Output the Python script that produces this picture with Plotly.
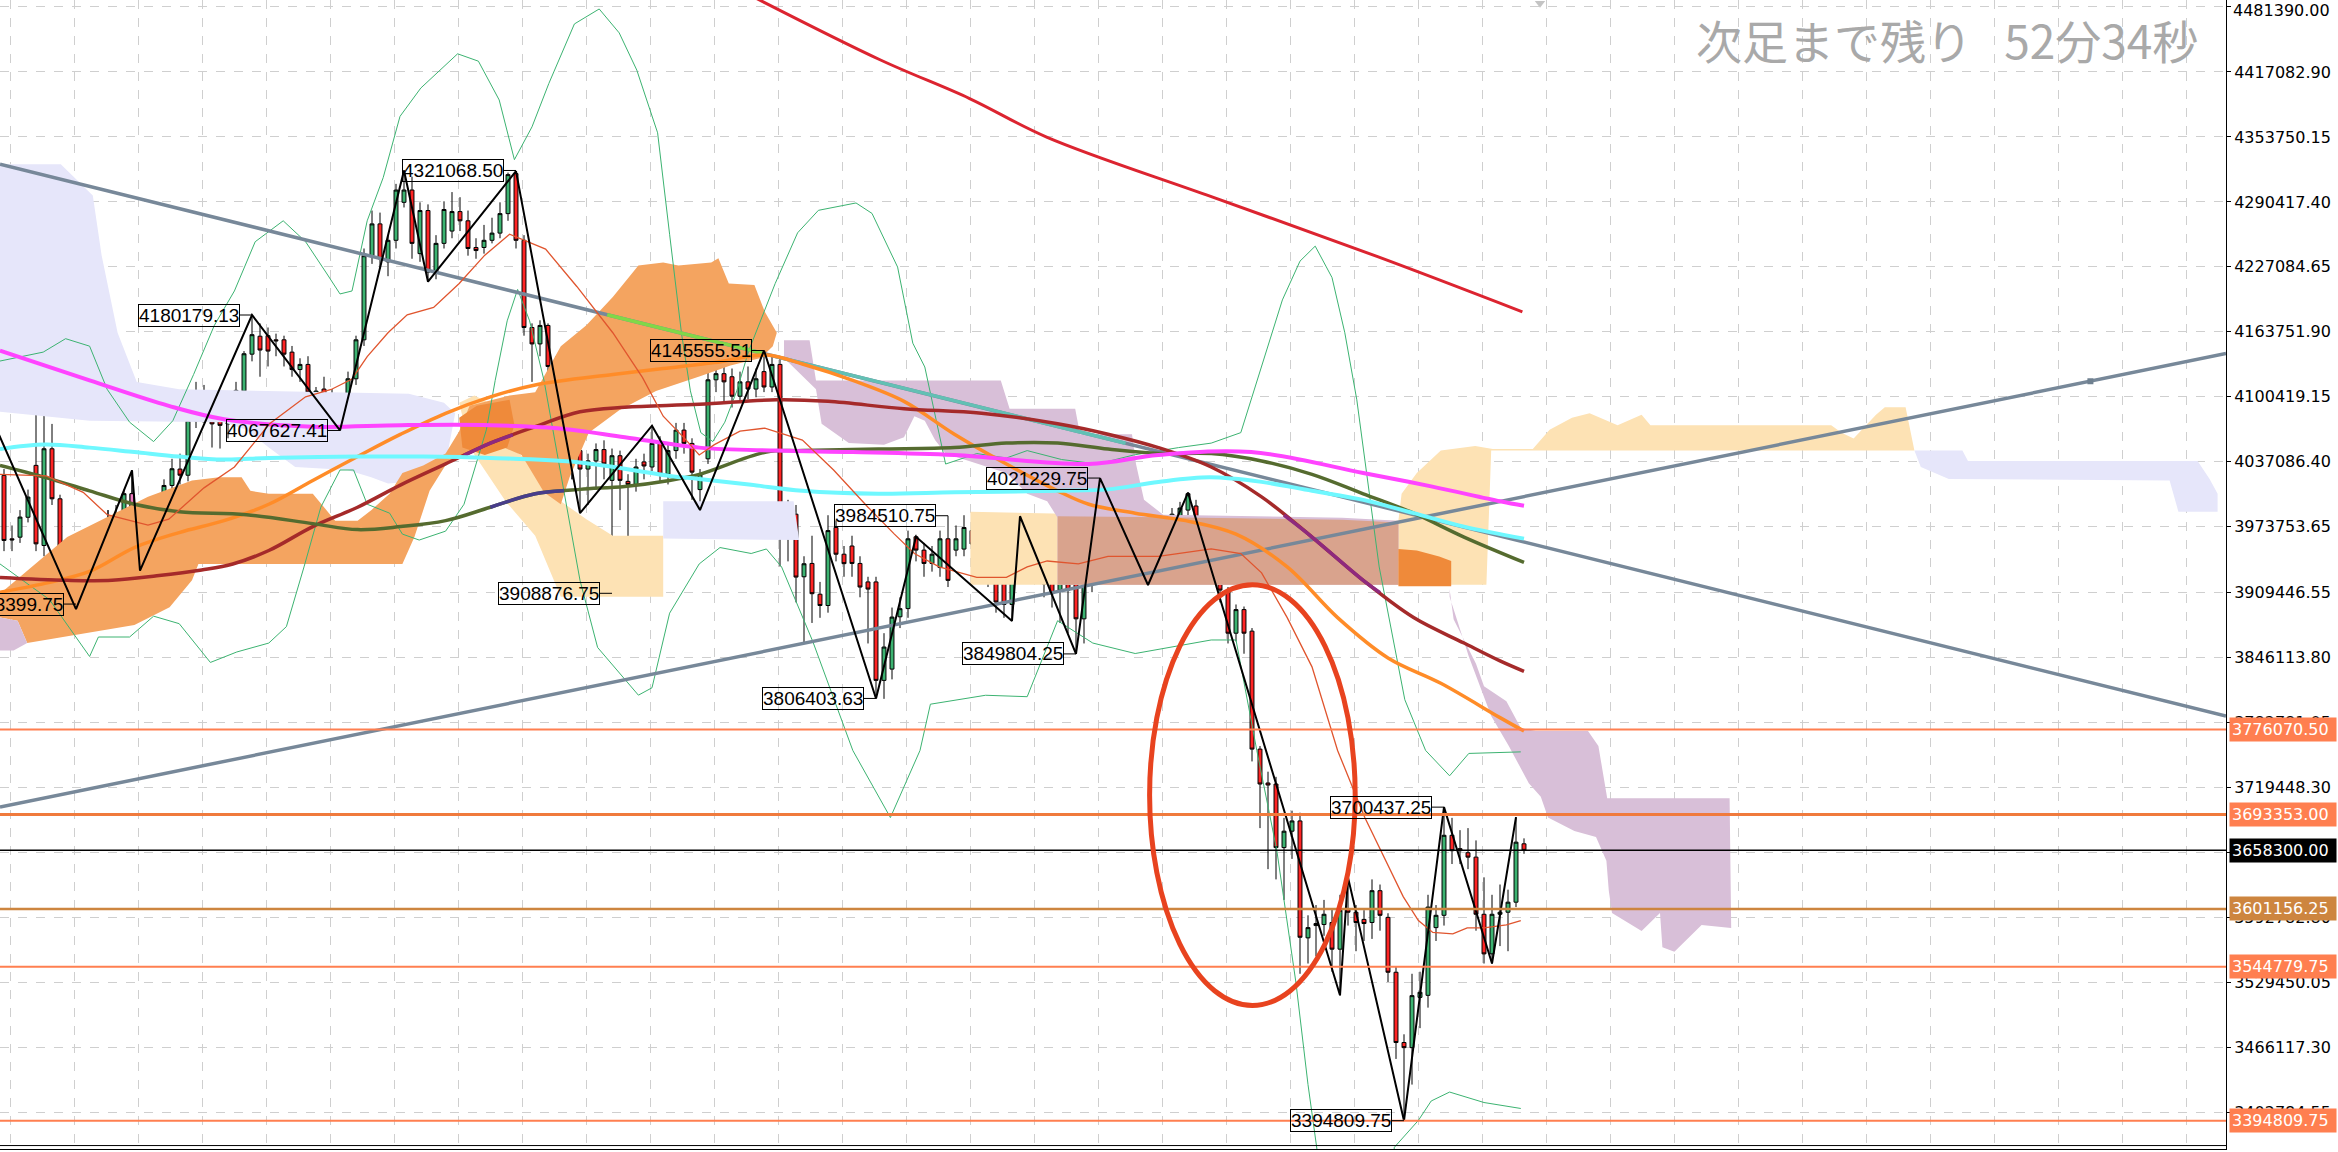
import plotly.graph_objects as go

# ---------------- candles (prices in thousands) ----------------
opens = [4023.8, 3962, 3963.6, 3983, 4033.6, 3955.5, 4049.8, 4001, 3953.9, 3921,
         3946, 3955, 3928, 3967, 3978, 3986, 4006, 3968, 3969, 3969,
         3991, 4014, 4030, 4024, 4077, 4097, 4085, 4077, 4074, 4084,
         4106, 4142, 4159.5, 4160, 4156, 4156, 4144, 4127, 4132, 4103,
         4108, 4101, 4071, 4094, 4118, 4156, 4238, 4269, 4232, 4253,
         4290, 4302, 4240, 4282, 4222, 4250, 4262, 4281, 4272, 4246,
         4246, 4253, 4260, 4279, 4318, 4253, 4168, 4152, 4170, 4130,
         4090, 4042, 4048, 4030, 4038, 4049, 4019, 4043, 4018, 4015,
         4037, 4032, 4055, 4025, 4048, 4068, 4055, 4010, 4040, 4117,
         4123, 4120, 4101, 4115, 4108, 4125, 4110, 4132, 3972, 3986,
         3925, 3938, 3908, 3897, 3973, 3947, 3955, 3938, 3920, 3920,
         3824, 3835, 3886, 3894, 3964, 3951, 3938, 3934, 3962, 3951,
         3952, 3970, 3957, 3937.8, 3921.5, 3925, 3898, 3951, 3967, 3963.8,
         3941, 3928, 3912, 3928, 3924.8, 3884, 3918, 3967, 4009, 4006,
         3986.5, 3947, 3960, 3946, 3944, 3947, 3960, 3984, 3990, 3994,
         3967, 3938, 3945, 3912, 3870, 3893, 3872, 3757, 3724, 3723,
         3661, 3677, 3687, 3573, 3585, 3586, 3588, 3562, 3601, 3598,
         3591, 3588, 3619, 3593, 3539.5, 3471, 3466, 3515, 3517, 3583,
         3595, 3673, 3660, 3656, 3651.7, 3596, 3557.4, 3596, 3598, 3607.8,
         3664.7]
highs = [4030, 3975, 3990, 4010, 4087.2, 4087, 4074, 4005, 3960, 3945,
         3962, 3965, 3972, 3990, 3995, 4010, 4028.7, 3975, 3980, 3995,
         4020, 4040, 4045, 4082, 4115, 4112, 4095, 4090, 4100, 4115,
         4145, 4180.2, 4172, 4168, 4162, 4160, 4150, 4138, 4140, 4110,
         4120, 4108, 4100, 4125, 4160, 4245, 4282, 4280, 4258, 4308,
         4321.07, 4315, 4290, 4288, 4258, 4291, 4300, 4295, 4282, 4255,
         4268, 4275, 4290, 4319, 4320.4, 4258, 4172, 4175, 4172, 4140,
         4095, 4052, 4052, 4045, 4055, 4058, 4050, 4048, 4025, 4040,
         4045, 4072.3, 4062, 4055, 4075, 4075, 4060, 4030, 4125, 4135,
         4130, 4128, 4125, 4130, 4128, 4145.6, 4140, 4138, 4000, 3995,
         3945, 3965, 3920, 3985, 3980, 3955, 3965, 3945, 3925, 3925,
         3870, 3895, 3905, 3970, 3966, 3958, 3955, 3970, 3984.5, 3975,
         3985, 3980, 3962, 3945, 3925, 3930, 3955, 3984, 3975, 3970,
         3945, 3935, 3935, 3932, 3930, 3925, 3975, 4021.2, 4015, 4012,
         3990, 3970, 3968, 3955, 3968, 3972, 3992, 3998, 4007, 4000,
         3972, 3955, 3950, 3915, 3898, 3896, 3875, 3760, 3735, 3730,
         3690, 3697, 3695, 3595, 3605, 3610, 3602, 3615, 3632, 3605,
         3600, 3630, 3625, 3597, 3545, 3479, 3538, 3540, 3615, 3605,
         3700.44, 3690, 3678, 3680, 3668, 3632, 3615, 3625, 3620, 3690.7,
         3670]
lows = [3950, 3950, 3958, 3978, 3950, 3945, 3995, 3945, 3912, 3893.4,
        3935, 3908, 3905, 3960, 3965, 3980, 3945, 3931, 3958, 3960,
        3985, 4008, 4015, 4018, 4070, 4075, 4051, 4050, 4060, 4075,
        4100, 4135, 4120, 4130, 4140, 4130, 4120, 4115, 4085, 4080,
        4080, 4070, 4067.6, 4090, 4112, 4150, 4230, 4225, 4218, 4245,
        4285, 4235, 4232, 4212.6, 4215, 4245, 4255, 4262, 4238, 4235,
        4240, 4250, 4255, 4272, 4245, 4160, 4115, 4140, 4120, 4080,
        4035, 4020, 3987, 3995, 4010, 4020, 3908.9, 3990, 3950, 4008,
        4020, 4028, 4018, 4015, 4040, 4045, 4000, 3990, 4035, 4105,
        4095, 4090, 4095, 4098, 4100, 4105, 4105, 3935, 3940, 3900,
        3860, 3880, 3885, 3890, 3940, 3925, 3925, 3905, 3860, 3806.4,
        3806, 3825, 3875, 3885, 3940, 3925, 3930, 3925, 3915, 3945,
        3945, 3950, 3928, 3915, 3890, 3885, 3882, 3945, 3935, 3930,
        3905, 3895, 3880, 3870, 3849.8, 3860, 3910, 3960, 3990, 3975,
        3945, 3930, 3925, 3917, 3935, 3938, 3950, 3975, 3985, 3960,
        3930, 3925, 3900, 3860, 3862, 3850, 3745, 3680, 3640, 3630,
        3610, 3650, 3538, 3548, 3555, 3575, 3540, 3517, 3585, 3560,
        3570, 3572, 3580, 3530, 3455, 3394.81, 3430, 3485, 3505, 3570,
        3585, 3645, 3645, 3640, 3580, 3548, 3548, 3565, 3560, 3603,
        3655]
closes = [3960.4, 3961, 3983.2, 4002.7, 3957.1, 4049.8, 4001, 3953.9, 3924.6, 3939,
          3955.5, 3928, 3967, 3978, 3979, 4006, 3954, 3969.7, 3970, 3991,
          4014, 4030.3, 4024, 4077.5, 4097, 4085.6, 4074, 4072.6, 4084, 4106.7,
          4142.4, 4161, 4146, 4145, 4155, 4142, 4127, 4132, 4105, 4106,
          4101, 4081, 4094, 4118, 4156, 4238, 4269, 4235, 4253, 4302,
          4302, 4250, 4282, 4222, 4250, 4283, 4281, 4272, 4245, 4243,
          4253, 4260, 4279, 4317, 4253, 4168, 4152, 4170, 4130, 4090,
          4042, 4048, 4030, 4038, 4049, 4035, 4043, 4019, 4015, 4032,
          4033, 4055, 4025, 4048, 4068, 4055, 4027, 4025, 4117, 4123,
          4115, 4101, 4115, 4108, 4118, 4110, 4132, 3972, 3986.5, 3924.7,
          3937.7, 3908.5, 3897, 3970, 3947, 3937.8, 3938, 3915, 3913, 3824,
          3856.5, 3885.7, 3893.9, 3962, 3951, 3938, 3947, 3962, 3921.5, 3962,
          3973, 3957, 3937.8, 3921.5, 3900.4, 3898, 3951, 3957.3, 3941, 3941,
          3918, 3908.5, 3928, 3912, 3884, 3918, 3967, 4012.5, 3999.5, 3986.5,
          3954, 3960, 3944, 3943, 3962, 3964, 3986, 3992, 4006, 3967,
          3938, 3945, 3912, 3870, 3893, 3870, 3757, 3723, 3722, 3661,
          3677, 3687, 3573.6, 3583, 3587, 3596, 3562, 3600, 3598, 3588,
          3587, 3619, 3595, 3539.5, 3471, 3466, 3516.7, 3520, 3603, 3595,
          3673, 3658, 3658, 3651.7, 3596, 3557.4, 3596, 3598, 3607.8, 3666.3,
          3658.3]
bar_index = list(range(len(opens)))
cyan_bars = [9, 10, 12, 13, 17, 19, 71]
pink_bars = [11, 16, 70]

# ---------------- zigzag pivots ----------------
zz_idx = [-1, 9, 16, 17, 31, 42, 50, 53, 64, 72, 81, 87, 95, 109, 114, 126, 127,
          134, 137, 143, 148, 167, 168, 175, 180, 186, 189]
zz_px = [4070, 3893.4, 4028.7, 3931, 4180.18, 4067.63, 4321.07, 4212.6, 4320.4, 3987,
         4072.3, 3990, 4145.56, 3806.4, 3964, 3882, 3984, 3849.8, 4021.23, 3917,
         4007, 3517, 3632, 3394.81, 3700.44, 3548, 3690.7]

# ---------------- moving averages (bar index, price k) ----------------
mag_x = [-0.5, 10.7, 20.6, 27.5, 38.6, 49.6, 60.8, 69.2, 77.6, 86.9, 96.6, 106.1, 118.8,
         135.6, 144.3, 155.9, 169.9, 178.4, 187.0, 190]
mag_y = [4145.5, 4116.4, 4091.6, 4078.6, 4071.3, 4072.8, 4072.8, 4069.8, 4061.1, 4050.9,
         4048.0, 4046.6, 4043.7, 4035.0, 4043.7, 4046.6, 4026.2, 4013.1, 3998.6, 3994.2]
cyan_x = [-0.5, 5.1, 10.7, 16.3, 21.9, 27.5, 33.1, 44.2, 52.4, 60.8, 72.0, 83.2, 86.9, 93.4,
          99.8, 109.3, 118.8, 131.7, 138.0, 144.3, 150.7, 157.2, 163.5, 169.9, 176.2, 182.5, 190]
cyan_y = [4049.5, 4053.9, 4050.9, 4046.6, 4042.2, 4039.3, 4040.8, 4042.2, 4042.2, 4040.8,
          4036.4, 4023.3, 4020.4, 4014.6, 4008.8, 4005.9, 4007.3, 4008.8, 4010.2, 4017.5,
          4021.9, 4017.5, 4008.8, 4000.0, 3987.0, 3973.9, 3962.2]
olive_x = [-0.5, 5.1, 10.7, 16.3, 21.9, 30.3, 38.6, 44.2, 49.6, 55.2, 60.8, 66.4, 72.0, 77.6,
           83.2, 86.9, 95.3, 99.8, 109.3, 118.8, 125.3, 131.7, 138.0, 144.3, 150.9, 157.2,
           163.5, 169.9, 176.2, 182.5, 190]
olive_y = [4033.5, 4021.9, 4008.8, 3995.7, 3988.4, 3985.5, 3976.8, 3971.0, 3973.9, 3979.7,
           3992.8, 4005.9, 4010.2, 4013.1, 4018.9, 4024.8, 4046.6, 4048.0, 4049.5, 4050.9,
           4055.3, 4055.3, 4049.5, 4045.1, 4045.1, 4037.9, 4024.8, 4005.9, 3987.0, 3963.7, 3939.0]
olive_seg_x = [60.8, 66.4, 70.0]
olive_seg_y = [3992.8, 4005.9, 4008.9]
brown_x = [-0.5, 7.9, 13.5, 19.1, 24.7, 28.6, 33.1, 38.6, 44.2, 49.6, 55.2, 60.8, 66.4, 72.0,
           77.6, 86.9, 96.6, 103.0, 112.5, 122.2, 131.7, 138.0, 144.3, 150.9, 157.2, 163.5,
           169.9, 176.2, 182.5, 187.0, 190]
brown_y = [3924.4, 3921.5, 3921.5, 3925.9, 3931.7, 3937.5, 3950.6, 3973.9, 3992.8, 4014.6,
           4035.0, 4055.3, 4071.3, 4085.8, 4090.2, 4093.1, 4097.5, 4096.0, 4088.8, 4084.4,
           4074.2, 4064.0, 4050.9, 4032.0, 4002.9, 3963.7, 3921.5, 3885.2, 3860.4, 3843.0, 3832.8]
brown_seg1_x = [57.5, 60.8, 63.6]
brown_seg1_y = [4043.3, 4055.3, 4063.3]
brown_seg2_x = [160.0, 163.5, 169.9, 172.0]
brown_seg2_y = [3985.0, 3963.7, 3921.5, 3909.5]
orange_x = [-0.5, 5.1, 10.7, 16.3, 21.9, 27.5, 33.1, 38.6, 44.2, 49.6, 55.2, 60.8, 66.4, 76.1,
            82.4, 88.8, 95.3, 99.8, 106.1, 112.5, 118.8, 125.3, 131.7, 135.6, 141.4, 147.7,
            154.0, 160.4, 166.7, 173.0, 179.6, 187.0, 190]
orange_y = [3909.9, 3918.6, 3930.2, 3953.5, 3968.1, 3979.7, 3995.7, 4018.9, 4042.2, 4064.0,
            4084.4, 4100.4, 4112.0, 4122.2, 4128.0, 4133.8, 4141.1, 4132.4, 4116.4, 4096.0,
            4064.0, 4034.9, 4008.8, 3995.7, 3987.0, 3979.7, 3966.6, 3934.6, 3885.2, 3845.9,
            3821.2, 3787.7, 3774.6]
red_x = [92.0, 109.5, 120.7, 130.4, 151.0, 171.7, 189.8]
red_y = [4497.0, 4429.0, 4391.2, 4353.4, 4295.3, 4237.1, 4183.3]

# Bollinger band
mid_x = [-0.5, 5.3, 9.9, 12.9, 18.0, 20.6, 25.0, 28.8, 33.2, 37.7, 40.9, 43.5, 45.4, 48.0,
         50.4, 53.7, 56.9, 60.1, 63.2, 67.7, 71.6, 76.1, 79.8, 82.4, 85.1, 86.9, 88.8, 92.0,
         95.1, 99.8, 103.7, 108.0, 111.3, 113.8, 116.9, 121.6, 125.3, 127.9, 130.4, 134.3,
         138.0, 144.3, 150.9, 154.6, 157.2, 160.4, 163.5, 166.7, 170.1, 172.9, 174.9, 176.8,
         178.6, 181.1, 182.9, 185.0, 187.8, 189.6]
mid_y = [4024.8, 4023.3, 4007.3, 3985.5, 3975.3, 3981.1, 4011.7, 4032.0, 4074.2, 4100.4,
         4107.6, 4117.8, 4139.6, 4162.9, 4180.4, 4187.6, 4210.9, 4238.5, 4258.9, 4244.4,
         4208.0, 4162.9, 4119.3, 4081.5, 4059.7, 4043.7, 4053.8, 4066.9, 4069.9, 4058.2,
         4029.1, 3992.8, 3966.6, 3947.7, 3934.6, 3924.4, 3924.4, 3934.6, 3940.4, 3937.5,
         3944.8, 3944.8, 3952.1, 3947.7, 3928.8, 3885.2, 3837.2, 3755.7, 3690.3, 3645.2,
         3613.2, 3589.9, 3578.3, 3576.9, 3582.7, 3582.7, 3585.6, 3589.9]
ub_x = [-0.5, 4.9, 7.7, 10.7, 12.9, 15.7, 18.7, 21.1, 23.7, 26.3, 28.8, 31.4, 34.9, 37.7,
        40.3, 42.0, 43.5, 45.4, 47.4, 49.5, 52.1, 56.7, 59.3, 61.9, 63.8, 66.0, 68.1, 71.3,
        74.4, 76.9, 79.1, 81.7, 83.2, 84.7, 85.8, 87.1, 88.6, 90.1, 91.6, 93.1, 96.4, 99.2,
        101.8, 106.5, 108.5, 111.7, 113.6, 115.1, 117.7, 121.6, 125.3, 127.9, 132.2, 136.7,
        141.2, 146.8, 150.9, 154.6, 159.8, 162.0, 163.9, 166.0, 167.6, 169.1, 171.9, 175.1,
        177.7, 180.7, 183.1, 187.8, 189.6]
ub_y = [4135.3, 4144.0, 4157.1, 4149.8, 4107.7, 4075.7, 4056.8, 4077.1, 4122.2, 4170.2,
        4203.6, 4251.6, 4272.0, 4251.6, 4221.1, 4200.7, 4203.6, 4272.0, 4314.1, 4373.8,
        4401.4, 4434.8, 4427.6, 4389.8, 4331.6, 4363.6, 4405.8, 4463.9, 4478.5, 4455.2,
        4418.9, 4357.8, 4258.9, 4161.5, 4106.2, 4065.5, 4056.8, 4075.7, 4106.2, 4145.5,
        4210.9, 4260.3, 4282.2, 4289.4, 4279.2, 4226.9, 4152.7, 4129.5, 4034.9, 4045.1,
        4040.8, 4048.0, 4039.3, 4034.9, 4043.7, 4050.9, 4055.3, 4065.5, 4194.9, 4232.7,
        4247.3, 4216.7, 4162.9, 4097.5, 3934.6, 3805.2, 3755.7, 3731.0, 3752.8, 3754.3, 3754.3]
lb_x = [-0.5, 5.7, 10.7, 11.8, 15.7, 18.7, 21.9, 25.8, 29.1, 33.1, 35.3, 37.5, 39.6, 42.0,
        43.7, 45.4, 48.2, 49.8, 51.9, 55.2, 57.5, 60.3, 61.4, 62.9, 64.2, 65.7, 67.5, 72.0,
        74.2, 79.3, 81.0, 83.2, 86.9, 89.5, 93.4, 95.3, 97.2, 101.1, 106.1, 110.8, 114.5,
        115.8, 122.7, 127.9, 131.7, 136.1, 141.4, 150.9, 154.0, 156.6, 159.1, 161.5, 163.0,
        164.1, 165.4, 172.5, 173.8, 176.8, 178.4, 180.7, 185.0, 189.6]
lb_y = [3937.5, 3902.6, 3847.3, 3866.3, 3866.3, 3886.6, 3879.3, 3841.5, 3851.7, 3860.4,
        3876.4, 3934.6, 3992.8, 4029.1, 4029.1, 3995.7, 3987.0, 3966.6, 3960.8, 3969.5,
        3995.7, 4068.4, 4116.4, 4174.5, 4205.1, 4174.5, 4116.4, 3921.5, 3856.1, 3809.6,
        3816.8, 3889.5, 3937.5, 3953.5, 3947.7, 3952.1, 3934.6, 3861.9, 3755.7, 3690.3,
        3755.7, 3800.8, 3809.5, 3808.1, 3882.2, 3860.4, 3850.2, 3863.4, 3863.4, 3755.7,
        3658.3, 3528.9, 3430.0, 3368.9, 3294.8, 3294.8, 3368.9, 3395.1, 3414.0, 3422.7,
        3412.5, 3406.7]

# ---------------- clouds (polygons: bar index, price k) ----------------
lav1_x = [-0.5, 7.1, 11.1, 12.2, 14.2, 16.6, 21.9, 32.7, 50.6, 55.0, 56.4, 55.2, 53.2, 48.0,
          45.9, 42.9, 36.4, 33.1, 30.3, 27.5, 10.7, -0.5]
lav1_y = [4327.2, 4327.2, 4296.7, 4238.5, 4162.9, 4114.9, 4107.7, 4106.2, 4103.3, 4094.6,
          4084.4, 4035.0, 4018.9, 4016.0, 4021.9, 4029.1, 4032.0, 4050.9, 4068.4, 4075.7,
          4077.1, 4085.8]
beige1_x = [56.9, 58.8, 60.6, 63.3, 66.4, 69.6, 72.8, 76.1, 82.4, 82.4, 69.6, 66.4, 62.7, 58.2]
beige1_y = [4094.6, 4101.8, 4094.6, 4050.9, 4033.5, 3998.6, 3981.1, 3965.1, 3965.1, 3905.5,
            3905.5, 3965.1, 3998.6, 4050.9]
lav2_x = [82.4, 98.7, 99.4, 82.4]
lav2_y = [3998.6, 3998.6, 3960.8, 3962.2]
beige2_x = [120.8, 174.3, 174.7, 176.6, 179.6, 183.9, 186.1, 191.1, 193.2, 196.0, 198.2,
            199.9, 201.7, 204.7, 205.8, 228.4, 229.7, 231.2, 234.0, 235.1, 237.7, 238.8,
            185.9, 185.3, 120.8]
beige2_y = [3988.4, 3979.7, 4005.9, 4026.2, 4048.0, 4052.4, 4049.5, 4049.5, 4068.4, 4080.0,
            4084.4, 4078.6, 4072.8, 4083.0, 4072.8, 4072.8, 4065.5, 4059.7, 4083.0, 4090.2,
            4090.2, 4048.0, 4048.0, 3917.2, 3917.2]
lav3_x = [238.8, 244.8, 245.5, 274.2, 275.7, 276.7, 276.7, 271.8, 270.7, 243.1, 239.6]
lav3_y = [4048.0, 4048.0, 4037.9, 4037.9, 4020.4, 4005.9, 3988.4, 3988.4, 4018.9, 4020.4, 4032.0]
a1_x = [-0.5, 7.9, 18.0, 23.5, 26.9, 29.7, 30.8, 33.1, 38.6, 41.4, 44.2, 45.9, 48.2, 49.8,
        52.4, 55.2, 56.9, 58.2, 63.2, 66.4, 69.6, 72.8, 76.1, 79.3, 82.4, 84.3, 88.4, 89.3,
        90.6, 93.8, 95.1, 96.6, 96.1, 94.6, 90.8, 87.1, 81.5, 76.9, 73.1, 70.7, 69.6, 67.5,
        64.7, 62.5, 59.1, 55.4, 53.2, 51.3, 49.8, 24.3, 23.5, 20.7, 16.3, 7.3, 2.9, 1.7, -0.5]
a1_y = [3908.4, 3963.7, 4003.0, 4018.9, 4021.9, 4021.9, 4008.8, 4005.9, 4005.9, 3979.7,
        3979.7, 3989.9, 4005.9, 4026.2, 4033.5, 4045.1, 4066.9, 4091.7, 4101.8, 4104.8,
        4149.8, 4170.2, 4197.8, 4228.4, 4231.3, 4228.4, 4231.3, 4235.6, 4210.9, 4209.4,
        4183.3, 4162.9, 4149.8, 4138.2, 4130.9, 4120.7, 4106.2, 4087.3, 4065.5, 4021.9,
        3995.7, 4007.3, 4043.7, 4050.9, 4050.9, 4036.4, 4008.8, 3963.7, 3937.5, 3937.5,
        3921.5, 3895.3, 3877.9, 3866.3, 3860.4, 3882.2, 3885.2]
thsm_x = [-0.5, 1.7, 2.9, 1.2, -0.5]
thsm_y = [3885.2, 3882.2, 3860.4, 3853.2, 3853.2]
d1_x = [56.9, 59.1, 63.2, 63.8, 62.9, 60.1, 57.3]
d1_y = [4080.0, 4091.7, 4097.5, 4072.8, 4050.9, 4043.7, 4050.9]
tha_x = [97.5, 100.7, 101.5, 124.6, 125.7, 133.9, 134.5, 141.0, 141.5, 142.5, 144.9, 167.3,
         174.3, 174.3, 131.7, 131.7, 130.4, 127.9, 125.3, 117.7, 116.4, 115.1, 113.8, 112.5,
         110.0, 105.6, 102.2, 101.5, 97.5]
tha_y = [4155.6, 4155.6, 4116.4, 4116.4, 4088.8, 4088.8, 4064.0, 4064.0, 4034.9, 4000.0,
         3985.5, 3982.6, 3979.7, 3917.2, 3917.2, 3982.6, 3998.6, 4005.9, 4026.2, 4045.1,
         4058.2, 4077.1, 4081.5, 4061.1, 4053.8, 4055.3, 4074.2, 4107.7, 4138.2]
brov_x = [131.7, 144.9, 167.3, 174.3, 174.3, 131.7]
brov_y = [3984.0, 3983.0, 3980.5, 3978.0, 3917.2, 3917.2]
d2_x = [174.3, 176.6, 179.4, 180.9, 180.9, 174.3]
d2_y = [3952.0, 3950.6, 3944.8, 3940.4, 3915.7, 3915.7]
thf_x = [180.7, 181.2, 184.0, 185.0, 187.8, 189.6, 191.5, 198.0, 199.3, 200.4, 215.7, 215.9,
         212.2, 208.8, 207.3, 207.0, 204.7, 201.0, 200.6, 200.3, 199.0, 196.3, 193.0, 192.1,
         190.6, 188.1, 185.9, 183.1, 180.7]
thf_y = [3912.8, 3883.7, 3840.1, 3818.3, 3803.7, 3777.5, 3774.6, 3774.6, 3760.1, 3709.2,
         3709.2, 3582.7, 3585.6, 3559.4, 3563.8, 3597.2, 3579.8, 3597.2, 3619.0, 3648.1,
         3671.4, 3677.2, 3690.3, 3710.6, 3723.8, 3760.1, 3789.2, 3847.4, 3905.5]

# ---------------- trend lines ----------------
tl1_x = [-0.5, 277.75]
tl1_y = [4327.2, 3789.2]
tl1_lime_x = [75.4, 94.9]
tl1_lime_y = [4180.45, 4142.74]
tl1_teal_x = [96.4, 140.2]
tl1_teal_y = [4139.85, 4055.16]
tl2_x = [-0.5, 277.75]
tl2_y = [3700.5, 4142.6]
tl2_mark_x = [260.8]
tl2_mark_y = [4115.6]
top_marker_x = [192]
top_marker_y = [4484.0]

# ---------------- levels / ticks / labels ----------------
level_values = [3776070.50, 3693353.00, 3658300.00, 3601156.25, 3544779.75, 3394809.75]
level_colors = ["#ff7f50", "#f07a3c", "#000000", "#cd853f", "#ff7f50", "#ff7f50"]
level_widths = [2, 3, 1.5, 2.5, 2, 2]
tick_values = [4481390.00, 4417082.90, 4353750.15, 4290417.40, 4227084.65, 4163751.90,
               4100419.15, 4037086.40, 3973753.65, 3909446.55, 3846113.80, 3782781.05,
               3719448.30, 3656115.55, 3592782.80, 3529450.05, 3466117.30, 3402784.55]
label_texts = ["3893399.75", "4180179.13", "4067627.41", "4321068.50", "3908876.75",
               "4145555.51", "3984510.75", "3806403.63", "4021229.75", "3849804.25",
               "3700437.25", "3394809.75"]
label_bars = [9, 31, 42, 64, 76, 95, 118, 109, 137, 134, 180, 175]
label_prices = [3898.4, 4180.18, 4067.63, 4321.07, 3908.88, 4145.56, 3984.51, 3806.40,
                4021.23, 3849.80, 3700.44, 3394.81]
timer_text = "次足まで残り\u2002\u200952分34秒"
ellipse_box = dict(x0=143.2, x1=168.9, y0=3507.1, y1=3917.2)

K = 1000.0
Y_TOP, Y_BOT = 4487.24, 3367.2

fig = go.Figure()

def poly(x, y, color):
    fig.add_trace(go.Scatter(x=x, y=y, fill="toself", fillcolor=color, mode="lines",
                             line=dict(width=0, color=color), hoverinfo="skip"))

poly(lav1_x, lav1_y, "#e6e6fa")
poly(beige1_x, beige1_y, "#fde2b4")
poly(lav2_x, lav2_y, "#e6e6fa")
poly(beige2_x, beige2_y, "#fde2b4")
poly(lav3_x, lav3_y, "#e6e6fa")
poly(a1_x, a1_y, "#f4a460")
poly(thsm_x, thsm_y, "#d8bfd8")
poly(d1_x, d1_y, "#ef8a3a")
poly(tha_x, tha_y, "#d8bfd8")
poly(brov_x, brov_y, "#d9a38d")
poly(d2_x, d2_y, "#ef8a3a")
poly(thf_x, thf_y, "#d8bfd8")

def line(x, y, color, width, shape="linear"):
    fig.add_trace(go.Scatter(x=x, y=y, mode="lines", hoverinfo="skip",
                             line=dict(color=color, width=width, shape=shape)))

# Bollinger outer bands
line(ub_x, ub_y, "#3cb371", 1)
line(lb_x, lb_y, "#3cb371", 1)

# trend lines
line(tl1_x, tl1_y, "#778899", 3.5)
line(tl1_lime_x, tl1_lime_y, "#80d848", 3.5)
line(tl1_teal_x, tl1_teal_y, "#62c0b4", 3.5)
line(tl2_x, tl2_y, "#778899", 3.5)
fig.add_trace(go.Scatter(x=tl2_mark_x, y=tl2_mark_y, mode="markers", hoverinfo="skip",
                         marker=dict(symbol="square", size=6, color="#6f8090")))
fig.add_trace(go.Scatter(x=top_marker_x, y=top_marker_y, mode="markers", hoverinfo="skip",
                         marker=dict(symbol="triangle-down", size=9, color="#c4c4c4")))

# candles
fig.add_trace(go.Candlestick(
    x=bar_index, open=opens, high=highs, low=lows, close=closes,
    increasing=dict(fillcolor="#3cb371", line=dict(color="#000000", width=1)),
    decreasing=dict(fillcolor="#ff2424", line=dict(color="#000000", width=1)),
    whiskerwidth=0, hoverinfo="skip"))
sp = sorted(cyan_bars + pink_bars)
fig.add_trace(go.Candlestick(
    x=sp, open=[opens[i] for i in sp], high=[highs[i] for i in sp],
    low=[lows[i] for i in sp], close=[closes[i] for i in sp],
    increasing=dict(fillcolor="#4cc8f4", line=dict(color="#000000", width=1)),
    decreasing=dict(fillcolor="#f27cc4", line=dict(color="#000000", width=1)),
    whiskerwidth=0, hoverinfo="skip"))

# moving averages
line(orange_x, orange_y, "#ff8c28", 3.5, "spline")
line(brown_x, brown_y, "#a52a2a", 3.5, "spline")
line(brown_seg1_x, brown_seg1_y, "#8e2a7e", 3.5, "spline")
line(brown_seg2_x, brown_seg2_y, "#8e2a7e", 3.5, "spline")
line(olive_x, olive_y, "#556b2f", 3.5, "spline")
line(olive_seg_x, olive_seg_y, "#483d8b", 3.5, "spline")
line(cyan_x, cyan_y, "#6ff8ff", 4, "spline")
line(mag_x, mag_y, "#ff44ff", 4, "spline")
line(red_x, red_y, "#dc2430", 3, "spline")
line(mid_x, mid_y, "#e0552e", 1.3)

# zigzag
line(zz_idx, zz_px, "#000000", 2)

shapes = []
for v, c, w in zip(level_values, level_colors, level_widths):
    shapes.append(dict(type="line", xref="paper", x0=0, x1=1, yref="y", y0=v / K, y1=v / K,
                       line=dict(color=c, width=w), layer="above"))
shapes.append(dict(type="circle", xref="x", yref="y", line=dict(color="#e8431f", width=5),
                   layer="above", **ellipse_box))
for b, p in zip(label_bars, label_prices):
    shapes.append(dict(type="line", xref="x", yref="y", x0=b - 1.5, x1=b, y0=p, y1=p,
                       line=dict(color="#000000", width=1), layer="above"))
shapes.append(dict(type="line", xref="paper", yref="paper", x0=0, x1=1, y0=0.003, y1=0.003,
                   line=dict(color="#000000", width=1)))

annotations = []
for t, b, p in zip(label_texts, label_bars, label_prices):
    annotations.append(dict(x=b, y=p, xref="x", yref="y", text=t, showarrow=False,
                            xanchor="right", yanchor="middle", xshift=-12,
                            font=dict(family="Liberation Sans", size=19, color="#000000"),
                            bordercolor="#000000", borderwidth=1, borderpad=0, height=21,
                            bgcolor="rgba(0,0,0,0)"))
label_bg = ["#ff7f50", "#ff7f50", "#000000", "#cd853f", "#ff7f50", "#ff7f50"]
for v, bg in zip(level_values, label_bg):
    annotations.append(dict(x=1, xref="paper", y=v / K, yref="y", text=f"{v:.2f}",
                            showarrow=False, xanchor="left", yanchor="middle", xshift=3,
                            font=dict(family="DejaVu Sans", size=16, color="#ffffff"),
                            bgcolor=bg, borderpad=2, width=102, height=19, align="left"))
# top tick label drawn as text so it stays inside the page
annotations.append(dict(x=1, xref="paper", y=1, yref="paper", text=f"{tick_values[0]:.2f}",
                        showarrow=False, xanchor="left", yanchor="top", xshift=5, yshift=1,
                        font=dict(family="DejaVu Sans", size=16, color="#000000")))
annotations.append(dict(x=2200 / 2226, y=1 - 39 / 1149, xref="paper", yref="paper",
                        text=timer_text, showarrow=False, xanchor="right", yanchor="middle",
                        font=dict(family="Noto Sans CJK JP", size=46, color="#a9a9a9")))

tick_text = [f"{v:.2f}" for v in tick_values]
tick_text[0] = ""

fig.update_layout(
    template="none",
    width=2338, height=1152, margin=dict(l=0, r=112, t=0, b=3),
    plot_bgcolor="#ffffff", paper_bgcolor="#ffffff", showlegend=False,
    shapes=shapes, annotations=annotations,
    xaxis=dict(range=[-0.5, 277.75], showticklabels=False, showgrid=True,
               gridcolor="#cfcfcf", griddash="dash", gridwidth=1, tick0=0.75, dtick=8,
               zeroline=False, showline=True, linecolor="#000000", linewidth=1,
               ticks="", rangeslider=dict(visible=False), fixedrange=True),
    yaxis=dict(side="right", range=[Y_BOT, Y_TOP], tickvals=[v / K for v in tick_values],
               ticktext=tick_text,
               tickfont=dict(family="DejaVu Sans", size=16, color="#000000"),
               ticks="outside", ticklen=4, tickcolor="#000000",
               ticklabeloverflow="allow",
               showline=True, linecolor="#000000", linewidth=1,
               showgrid=True, gridcolor="#cfcfcf", griddash="dash", gridwidth=1,
               zeroline=False, fixedrange=True),
)

fig.write_html("out.html", config={"displayModeBar": False},
               post_script="document.body.style.margin='0';document.body.style.overflow='hidden';")
